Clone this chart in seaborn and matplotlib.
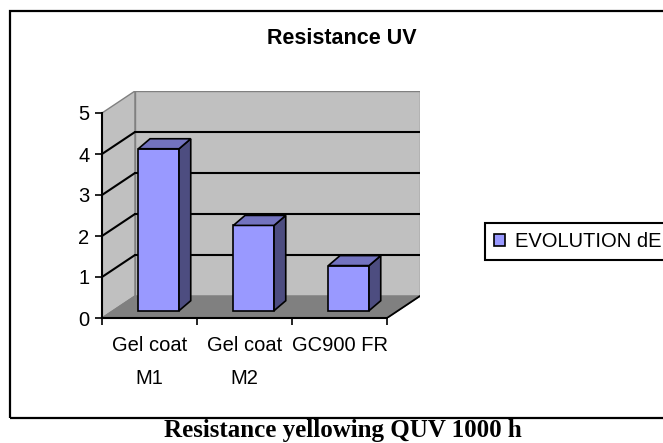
import numpy as np
import pandas as pd
import matplotlib
matplotlib.use("Agg")
import matplotlib.pyplot as plt
from matplotlib.patches import Polygon, Rectangle, Patch
from matplotlib.lines import Line2D
import seaborn as sns

# ---- data ----
categories = ["Gel coat\nM1", "Gel coat\nM2", "GC900 FR"]
values = [3.95, 2.08, 1.10]
series_name = "EVOLUTION dE"
y_ticks = [0, 1, 2, 3, 4, 5]
title = "Resistance UV"
caption = "Resistance yellowing QUV 1000 h"

sns.set_style("white")
plt.rcParams['font.family'] = ['Liberation Sans', 'DejaVu Sans']
plt.rcParams['text.color'] = 'black'
plt.rcParams['axes.labelcolor'] = 'black'
plt.rcParams['xtick.color'] = 'black'
plt.rcParams['ytick.color'] = 'black'

W, H = 663, 443
fig = plt.figure(figsize=(W / 100, H / 100), dpi=100)
fig.patch.set_facecolor('white')

# geometry (pixels)
PX, PY = 95.0, 41.0          # pixels per data unit
DEPTH_PX = (33.0, 22.0)      # wall depth offset
n = len(categories)
ymax = max(y_ticks)
x0 = 102
y0 = 318
x1 = x0 + n * PX + DEPTH_PX[0]
y1 = y0 - ymax * PY - DEPTH_PX[1]
ax = fig.add_axes([x0 / W, 1 - y0 / H, (x1 - x0) / W, (y0 - y1) / H])
ax.patch.set_visible(False)

DX, DY = DEPTH_PX[0] / PX, DEPTH_PX[1] / PY
BFX, BFY = 9.2 / PX, 7.3 / PY      # bar front offset
BDX, BDY = 11.7 / PX, 10.0 / PY    # bar depth

xl, xr = -0.5, n - 0.5

# walls
wall_c = '#C0C0C0'
edge_g = '#808080'
ax.add_patch(Polygon([(xl, 0), (xl + DX, DY), (xl + DX, ymax + DY), (xl, ymax)],
                     closed=True, fc=wall_c, ec=edge_g, lw=1.0, zorder=0.5))
ax.add_patch(Polygon([(xl + DX, DY), (xr + DX, DY), (xr + DX, ymax + DY), (xl + DX, ymax + DY)],
                     closed=True, fc=wall_c, ec=edge_g, lw=1.0, zorder=0.5))
ax.add_patch(Polygon([(xl, 0), (xr, 0), (xr + DX, DY), (xl + DX, DY)],
                     closed=True, fc='#808080', ec=edge_g, lw=1.0, zorder=0.6))
ax.add_line(Line2D([xr, xr + DX], [0, DY], color='black', lw=1.3, zorder=0.7))

# gridlines
for k in y_ticks[1:-1]:
    ax.add_line(Line2D([xl + DX, xr + DX], [k + DY, k + DY], color='black', lw=1.5, zorder=1))
    ax.add_line(Line2D([xl, xl + DX], [k, k + DY], color='black', lw=1.5, zorder=1))

# bars
df = pd.DataFrame({"cat": categories, "val": values})
sns.barplot(data=df, x="cat", y="val", color="#9999FF", saturation=1,
            width=40.7 / PX, edgecolor="black", linewidth=1.2, zorder=3, ax=ax)
bars = [p for p in ax.patches if p.get_zorder() == 3]
for p in bars:
    bx = p.get_x() + BFX
    w = p.get_width()
    h = p.get_height()
    p.set_x(bx)
    p.set_y(BFY)
    top = BFY + h
    ax.add_patch(Polygon([(bx + w, BFY), (bx + w + BDX, BFY + BDY),
                          (bx + w + BDX, top + BDY), (bx + w, top)],
                         closed=True, fc='#4D4D80', ec='black', lw=1.2, zorder=3))
    ax.add_patch(Polygon([(bx, top), (bx + BDX, top + BDY),
                          (bx + w + BDX, top + BDY), (bx + w, top)],
                         closed=True, fc='#7373BF', ec='black', lw=1.2, zorder=3))

ax.set_xlim(xl, xr + DX)
ax.set_ylim(0, ymax + DY)
ax.set_xlabel('')
ax.set_ylabel('')

for s in ['top', 'right']:
    ax.spines[s].set_visible(False)
ax.spines['left'].set_bounds(0, ymax)
ax.spines['bottom'].set_bounds(xl, xr)
for s in ['left', 'bottom']:
    ax.spines[s].set_color('black')
    ax.spines[s].set_linewidth(1.5)
    ax.spines[s].set_zorder(4)

ax.set_yticks(y_ticks)
ax.set_yticklabels([str(t) for t in y_ticks])
ax.tick_params(axis='y', length=5, width=1.2, pad=4, labelsize=14.5,
               colors='black', left=True)
ax.set_xticks(range(n))
ax.set_xticklabels(categories)
ax.tick_params(axis='x', which='major', length=0, pad=13, labelsize=14.5, colors='black')
ax.set_xticks(np.arange(n + 1) - 0.5, minor=True)
ax.tick_params(axis='x', which='minor', length=5, width=1.2, bottom=True, color='black')
for t in ax.get_xticklabels():
    t.set_linespacing(1.9)

# legend
leg = fig.legend(handles=[Patch(facecolor='#9999FF', edgecolor='black', lw=1.2)],
                 labels=[series_name], loc='upper left',
                 bbox_to_anchor=(485 / W, 1 - 223 / H), frameon=True, fancybox=False,
                 framealpha=1, edgecolor='black', fontsize=14.5,
                 handlelength=0.55, handleheight=0.6, handletextpad=0.5,
                 borderpad=0.45, borderaxespad=0)
leg.get_frame().set_linewidth(1.5)
for t in leg.get_texts():
    t.set_color('black')

# title and outer frame
fig.text(342 / W, 1 - 38.5 / H, title, ha='center', va='center',
         fontsize=15.5, fontweight='bold', color='black')
fig.add_artist(Rectangle((10 / W, 1 - 418 / H), (720 - 10) / W, (418 - 10.5) / H,
                         transform=fig.transFigure, fill=False, ec='black', lw=1.6))
fig.text(343 / W, 1 - 437.5 / H, caption, ha='center', va='baseline', color='black',
         fontsize=18, fontweight='bold', family=['Liberation Serif', 'DejaVu Serif'])

fig.savefig('out.png', dpi=100)
